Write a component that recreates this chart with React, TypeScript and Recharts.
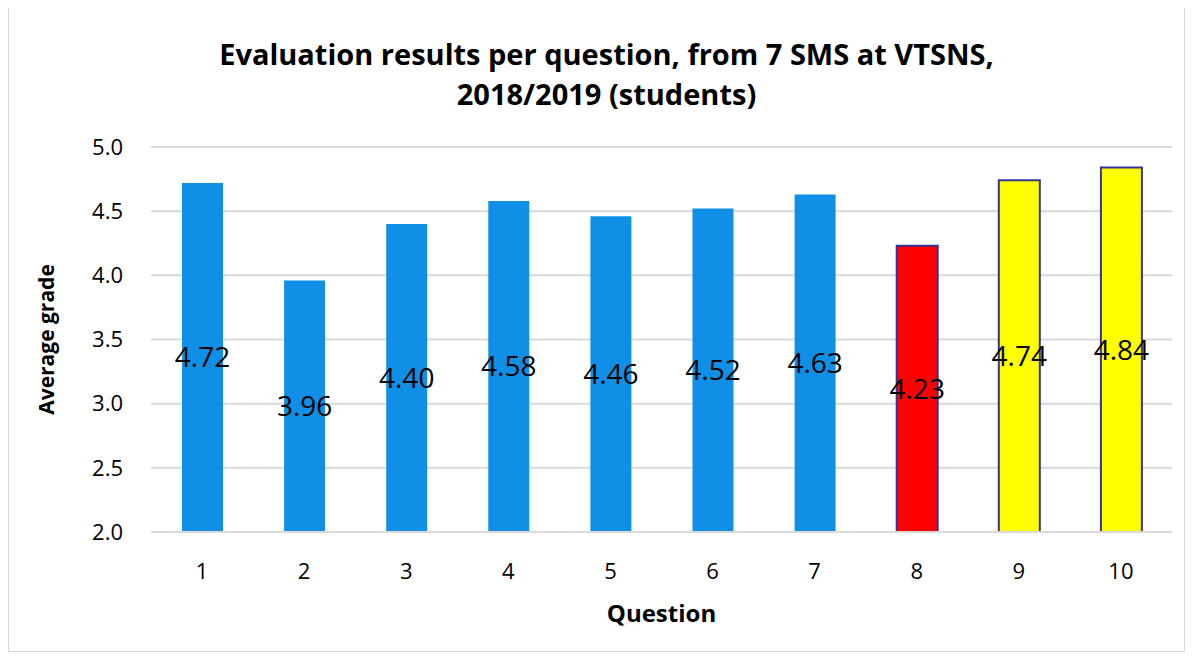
import React from 'react';
import { BarChart, Bar, XAxis, YAxis, CartesianGrid, Cell, LabelList, Label } from 'recharts';

const questions = ['1', '2', '3', '4', '5', '6', '7', '8', '9', '10'];
const grades = [4.72, 3.96, 4.4, 4.58, 4.46, 4.52, 4.63, 4.23, 4.74, 4.84];
const fills = ['#0F8FE6', '#0F8FE6', '#0F8FE6', '#0F8FE6', '#0F8FE6', '#0F8FE6', '#0F8FE6', '#FF0000', '#FFFF00', '#FFFF00'];
const outlined = [false, false, false, false, false, false, false, true, true, true];
const yTicks = [2.0, 2.5, 3.0, 3.5, 4.0, 4.5, 5.0];

const data = questions.map((q, i) => ({ question: q, grade: grades[i] }));

const font = '"Open Sans", "Noto Sans", sans-serif';

const App: React.FC = () => (
  <div
    style={{
      position: 'relative',
      width: 1175,
      height: 643,
      border: '1px solid #d9d9d9',
      marginTop: -1,
      background: '#fff',
      fontFamily: font,
    }}
  >
    <div
      style={{
        position: 'absolute',
        top: 26,
        left: 0,
        width: 1195,
        textAlign: 'center',
        fontWeight: 'bold',
        fontSize: 29,
        lineHeight: '40px',
        color: '#000',
      }}
    >
      Evaluation results per question, from 7 SMS at VTSNS,
      <br />
      2018/2019 (students)
    </div>
    <BarChart
      width={1175}
      height={643}
      data={data}
      margin={{ top: 139, right: 12, bottom: 0, left: 20 }}
    >
      <CartesianGrid vertical={false} stroke="#d9d9d9" strokeWidth={2} />
      <XAxis
        dataKey="question"
        axisLine={{ stroke: '#d9d9d9', strokeWidth: 2 }}
        tickLine={false}
        tickMargin={25}
        tick={{ fill: '#000', fontSize: 22, fontFamily: font }}
        height={119}
      >
        <Label
          content={({ viewBox }: any) => (
            <text
              x={viewBox.x + viewBox.width / 2}
              y={viewBox.y + 90}
              textAnchor="middle"
              fontWeight="bold"
              fontSize={24}
              fontFamily={font}
              fill="#000"
            >
              Question
            </text>
          )}
        />
      </XAxis>
      <YAxis
        domain={[2, 5]}
        ticks={yTicks}
        allowDataOverflow
        axisLine={false}
        tickLine={false}
        tickMargin={22}
        width={122}
        tickFormatter={(v: number) => v.toFixed(1)}
        tick={{ fill: '#000', fontSize: 22, fontFamily: font }}
      >
        <Label
          content={({ viewBox }: any) => {
            const cx = 37;
            const cy = viewBox.y + viewBox.height / 2;
            return (
              <text
                x={cx}
                y={cy}
                transform={`rotate(-90, ${cx}, ${cy})`}
                textAnchor="middle"
                dominantBaseline="central"
                fontWeight="bold"
                fontSize={21}
                fontFamily={font}
                fill="#000"
              >
                Average grade
              </text>
            );
          }}
        />
      </YAxis>
      <Bar dataKey="grade" barSize={41} isAnimationActive={false}>
        {data.map((d, i) => (
          <Cell
            key={d.question}
            fill={fills[i]}
            stroke={outlined[i] ? '#333399' : 'none'}
            strokeWidth={outlined[i] ? 2 : 0}
          />
        ))}
        <LabelList
          dataKey="grade"
          position="center"
          formatter={(v: any) => Number(v).toFixed(2)}
          style={{ fill: '#000', fontSize: 28, fontFamily: font }}
        />
      </Bar>
    </BarChart>
  </div>
);

export default App;
